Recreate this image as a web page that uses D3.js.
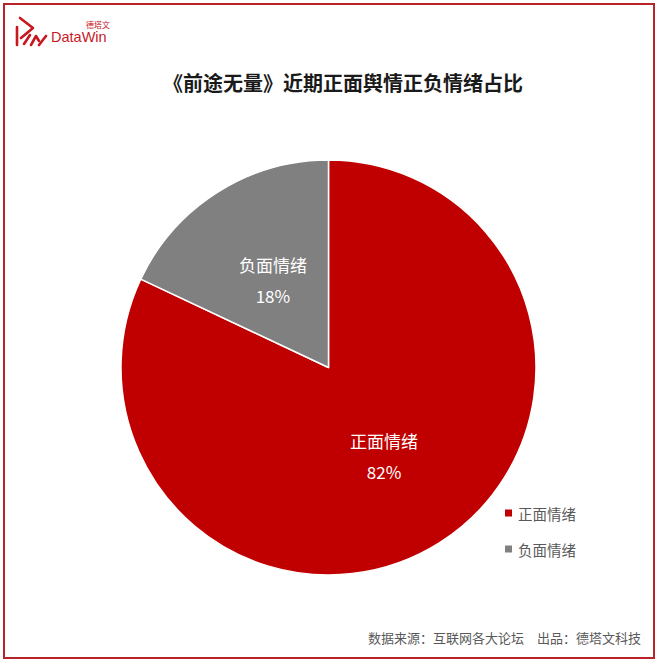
<!DOCTYPE html>
<html><head><meta charset="utf-8">
<script src="https://cdn.jsdelivr.net/npm/d3@7"></script>
<style>
html,body{margin:0;padding:0;background:#fff;}
svg{display:block;font-family:"Microsoft YaHei","Noto Sans CJK SC","Noto Sans",sans-serif;}
</style></head>
<body>
<svg id="chart" width="660" height="665"></svg>
<script>
const categories = ["正面情绪", "负面情绪"];
const values = [82, 18];
const colors = ["#C00000", "#808080"];
const title = "《前途无量》近期正面舆情正负情绪占比";
const source = "数据来源：互联网各大论坛　出品：德塔文科技";

const svg = d3.select("#chart");

// border
svg.append("rect").attr("x", 4).attr("y", 4).attr("width", 650).attr("height", 654)
  .attr("fill", "none").attr("stroke", "#B8242A").attr("stroke-width", 2);

// logo
const logo = svg.append("g").attr("fill", "none").attr("stroke", "#C8171F").attr("stroke-width", 2.6)
  .attr("stroke-linecap", "round").attr("stroke-linejoin", "round");
logo.append("path").attr("d", "M20,18 L33,28 L21,38");
logo.append("path").attr("d", "M17,27 L17,45");
logo.append("path").attr("d", "M24,44 L30,35");
logo.append("path").attr("d", "M31,45 L36,36 L39,41");
logo.append("path").attr("d", "M39,45 L46,36");
svg.append("text").attr("x", 51).attr("y", 42).text("DataWin")
  .attr("font-family", "Arial, 'Liberation Sans', sans-serif").attr("font-size", 14.5).attr("fill", "#C8171F");
svg.append("text").attr("x", 86).attr("y", 28).text("德塔文")
  .attr("font-size", 8).attr("fill", "#C8171F");

// title
svg.append("text").attr("x", 343).attr("y", 91).attr("text-anchor", "middle")
  .attr("font-size", 20).attr("font-weight", "bold").attr("fill", "#1a1a1a").text(title);

// pie
const cx = 328.5, cy = 367.5, r = 207.5;
const data = categories.map((c, i) => ({ name: c, value: values[i], color: colors[i] }));
const pie = d3.pie().value(d => d.value).sort(null);
const arc = d3.arc().innerRadius(0).outerRadius(r);
const labelArc = d3.arc().innerRadius(r / 2).outerRadius(r / 2);
const g = svg.append("g").attr("transform", `translate(${cx},${cy})`);
const arcs = pie(data);
g.selectAll("path").data(arcs).join("path")
  .attr("d", arc).attr("fill", d => d.data.color)
  .attr("stroke", "#fff").attr("stroke-width", 1.5).attr("stroke-linejoin", "round");
arcs.forEach(d => {
  const [x, y] = labelArc.centroid(d);
  g.append("text").attr("x", x).attr("y", y - 15).attr("text-anchor", "middle")
    .attr("dominant-baseline", "central").attr("font-size", 17).attr("fill", "#fff").text(d.data.name);
  g.append("text").attr("x", x).attr("y", y + 16).attr("text-anchor", "middle")
    .attr("dominant-baseline", "central").attr("font-size", 17).attr("fill", "#fff")
    .text(d3.format(".0%")(d.data.value / d3.sum(values)));
});

// legend
const lg = svg.append("g").attr("transform", "translate(505,513)");
data.forEach((d, i) => {
  const row = lg.append("g").attr("transform", `translate(0,${i * 36})`);
  row.append("rect").attr("x", 0).attr("y", -3.5).attr("width", 7).attr("height", 7).attr("fill", d.color);
  row.append("text").attr("x", 13).attr("y", 0).attr("dominant-baseline", "central")
    .attr("font-size", 14.5).attr("fill", "#595959").text(d.name);
});

// source
svg.append("text").attr("x", 641).attr("y", 637).attr("text-anchor", "end").attr("dominant-baseline", "central")
  .attr("font-size", 13).attr("fill", "#595959").text(source);
</script>
</body></html>
